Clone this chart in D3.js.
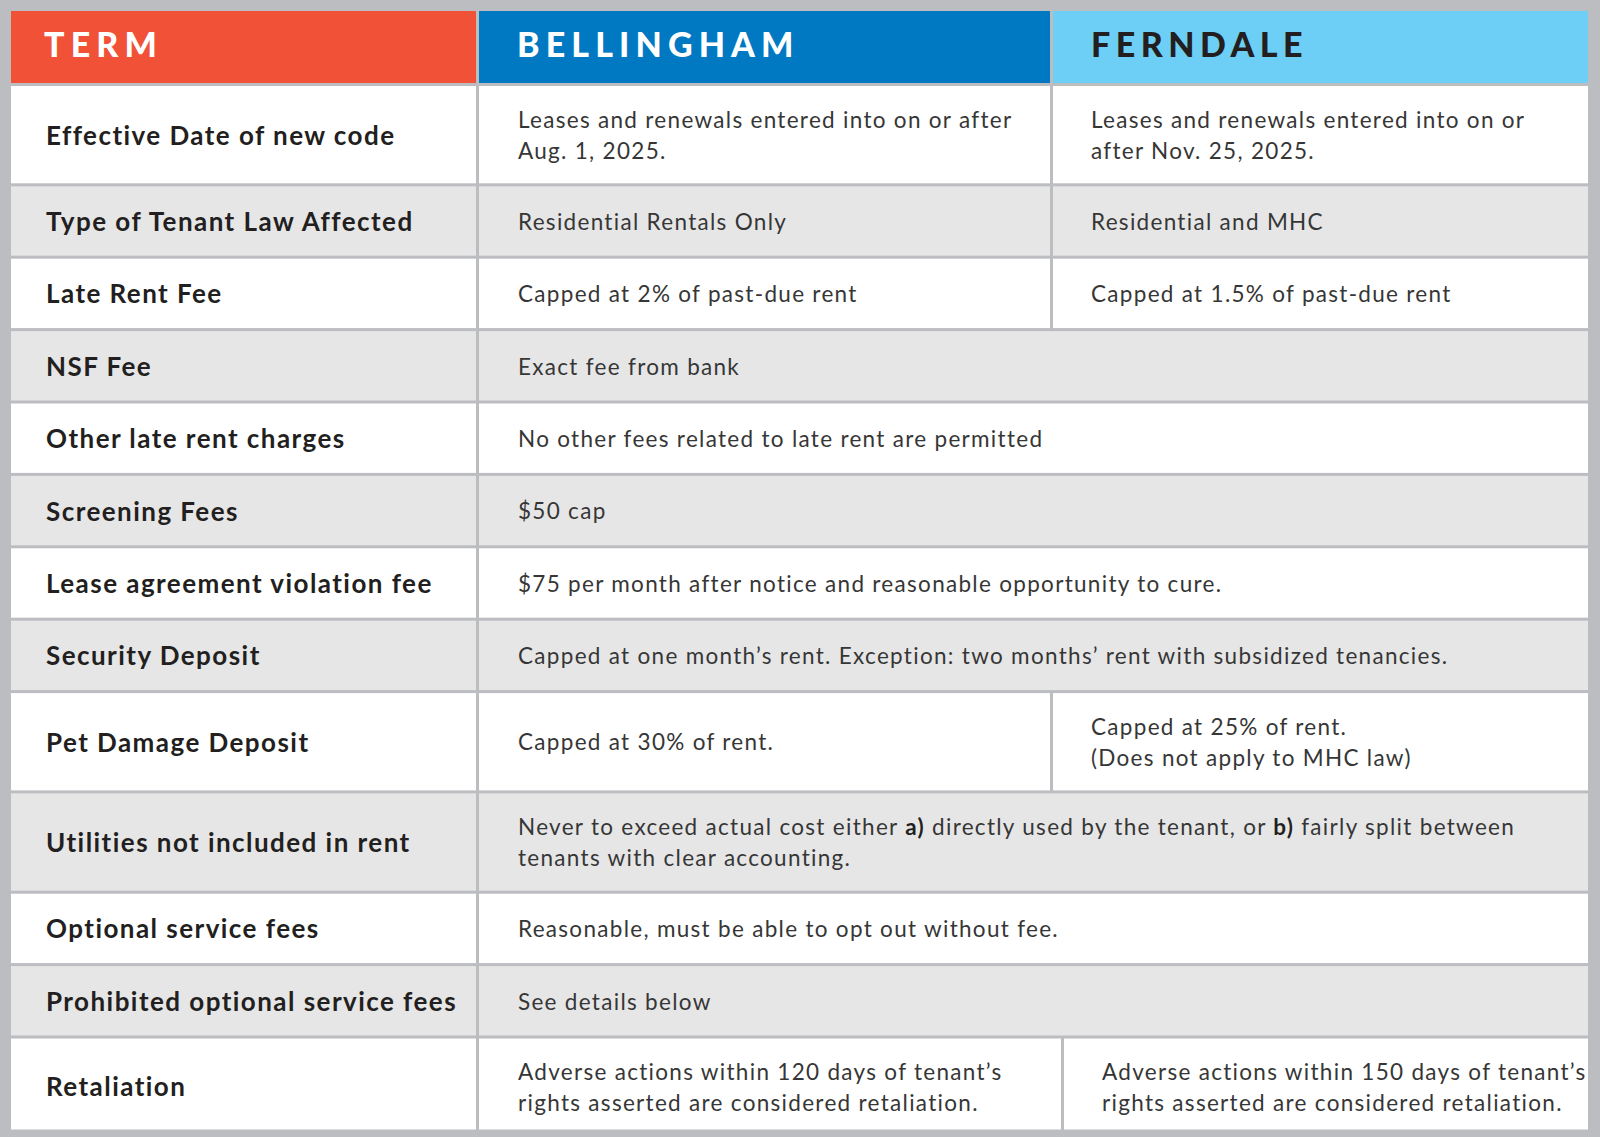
<!DOCTYPE html>
<html>
<head>
<meta charset="utf-8">
<script src="https://cdn.jsdelivr.net/npm/d3@7/dist/d3.min.js"></script>
<style>
  html, body { margin: 0; padding: 0; background: #bcbdc0; }
  svg { display: block; }
</style>
</head>
<body>
<svg id="chart" width="1600" height="1137"></svg>
<script>
// ---------- DATA ----------
const headers = ["TERM", "BELLINGHAM", "FERNDALE"];

const terms = [
  "Effective Date of new code",
  "Type of Tenant Law Affected",
  "Late Rent Fee",
  "NSF Fee",
  "Other late rent charges",
  "Screening Fees",
  "Lease agreement violation fee",
  "Security Deposit",
  "Pet Damage Deposit",
  "Utilities not included in rent",
  "Optional service fees",
  "Prohibited optional service fees",
  "Retaliation"
];

// Each cell is a list of text lines; **x** marks bold fragments.
const bellingham = [
  ["Leases and renewals entered into on or after", "Aug. 1, 2025."],
  ["Residential Rentals Only"],
  ["Capped at 2% of past-due rent"],
  ["Exact fee from bank"],
  ["No other fees related to late rent are permitted"],
  ["$50 cap"],
  ["$75 per month after notice and reasonable opportunity to cure."],
  ["Capped at one month\u2019s rent. Exception: two months\u2019 rent with subsidized tenancies."],
  ["Capped at 30% of rent."],
  ["Never to exceed actual cost either **a)** directly used by the tenant, or **b)** fairly split between", "tenants with clear accounting."],
  ["Reasonable, must be able to opt out without fee."],
  ["See details below"],
  ["Adverse actions within 120 days of tenant\u2019s", "rights asserted are considered retaliation."]
];

// null = same rule for both cities (cell spans both columns)
const ferndale = [
  ["Leases and renewals entered into on or", "after Nov. 25, 2025."],
  ["Residential and MHC"],
  ["Capped at 1.5% of past-due rent"],
  null,
  null,
  null,
  null,
  null,
  ["Capped at 25% of rent.", "(Does not apply to MHC law)"],
  null,
  null,
  null,
  ["Adverse actions within 150 days of tenant\u2019s", "rights asserted are considered retaliation."]
];

// ---------- STYLE / LAYOUT ----------
const headerFill = ["#f15137", "#0079c2", "#6dcff6"];
const headerText = ["#ffffff", "#ffffff", "#231f20"];
const rowFill = ["#ffffff", "#e6e6e7"];
const bodyColor = "#363636";
const labelColor = "#231f20";

const tblLeft = 11, tblRight = 1588, tblTop = 11, gap = 3;
const headerH = 72;
const col1Right = 476, col2Right = 1050;      // standard divider positions
const lastDivider = 1061;                     // retaliation row divider
const padL = 35, padText = 40;

const svg = d3.select("#chart");

// row heights from line counts
const lineCount = terms.map((t, i) => Math.max(bellingham[i].length, ferndale[i] ? ferndale[i].length : 1));
const rowH = lineCount.map((n, i) => i === terms.length - 1 ? 91 : (n > 1 ? 97.3 : 69.4));
const rowTop = [];
let acc = tblTop + headerH + gap;
rowH.forEach(h => { rowTop.push(acc); acc += h + gap; });

// x scale over the three columns
const colScale = d3.scaleOrdinal().domain([0, 1, 2]).range([tblLeft, col1Right + gap, col2Right + gap]);
const colEnd = d3.scaleOrdinal().domain([0, 1, 2]).range([col1Right, col2Right, tblRight]);

// ---------- HEADER ----------
const head = svg.append("g");
headers.forEach((h, c) => {
  head.append("rect")
    .attr("x", colScale(c)).attr("y", tblTop)
    .attr("width", colEnd(c) - colScale(c)).attr("height", headerH)
    .attr("fill", headerFill[c]);
  head.append("text")
    .attr("x", colScale(c) + (c === 0 ? padL : padText) - 2)
    .attr("y", tblTop + headerH / 2 + 9.5)
    .attr("fill", headerText[c])
    .attr("font-family", "Lato, 'Noto Sans', sans-serif")
    .attr("font-weight", 900)
    .attr("font-size", 34)
    .attr("letter-spacing", c === 2 ? "0.16em" : "0.18em")
    .text(h);
});

// ---------- BODY ----------
function writeLines(g, lines, x, cy, opts) {
  const lh = opts.lineHeight;
  const n = lines.length;
  const capHalf = opts.capHalf;
  lines.forEach((line, k) => {
    const y = cy - (n - 1) * lh / 2 + k * lh + capHalf;
    const t = g.append("text")
      .attr("x", x).attr("y", y)
      .attr("fill", opts.color)
      .attr("font-family", "Lato, 'Noto Sans', sans-serif")
      .attr("font-size", opts.size)
      .attr("font-weight", opts.weight)
      .attr("letter-spacing", opts.spacing);
    line.split(/(\*\*[^*]+\*\*)/).filter(s => s.length).forEach(seg => {
      const bold = seg.startsWith("**");
      t.append("tspan")
        .attr("font-weight", bold ? 700 : null)
        .attr("fill", bold ? labelColor : null)
        .text(bold ? seg.slice(2, -2) : seg);
    });
  });
}

const body = svg.append("g");
terms.forEach((term, i) => {
  const y0 = rowTop[i], h = rowH[i];
  const isLast = i === terms.length - 1;
  const cy = y0 + h / 2 + (isLast ? 3 : 0.5);
  const fill = rowFill[i % 2];
  const div = isLast ? lastDivider : col2Right;

  // term cell
  body.append("rect").attr("x", colScale(0)).attr("y", y0)
    .attr("width", colEnd(0) - colScale(0)).attr("height", h).attr("fill", fill);
  writeLines(body, [term], colScale(0) + padL, cy,
    { size: 26, weight: 700, color: labelColor, lineHeight: 31, capHalf: 9.4, spacing: 1.45 });

  const bodyOpts = { size: 22.5, weight: 400, color: bodyColor, lineHeight: 31, capHalf: 8.2, spacing: 1.3 };
  if (ferndale[i] === null) {
    body.append("rect").attr("x", colScale(1)).attr("y", y0)
      .attr("width", tblRight - colScale(1)).attr("height", h).attr("fill", fill);
    writeLines(body, bellingham[i], colScale(1) + padText - 1, cy, bodyOpts);
  } else {
    body.append("rect").attr("x", colScale(1)).attr("y", y0)
      .attr("width", div - colScale(1)).attr("height", h).attr("fill", fill);
    writeLines(body, bellingham[i], colScale(1) + padText - 1, cy, bodyOpts);
    body.append("rect").attr("x", div + gap).attr("y", y0)
      .attr("width", tblRight - div - gap).attr("height", h).attr("fill", fill);
    writeLines(body, ferndale[i], div + gap + padText - 2, cy, bodyOpts);
  }
});
</script>
</body>
</html>
